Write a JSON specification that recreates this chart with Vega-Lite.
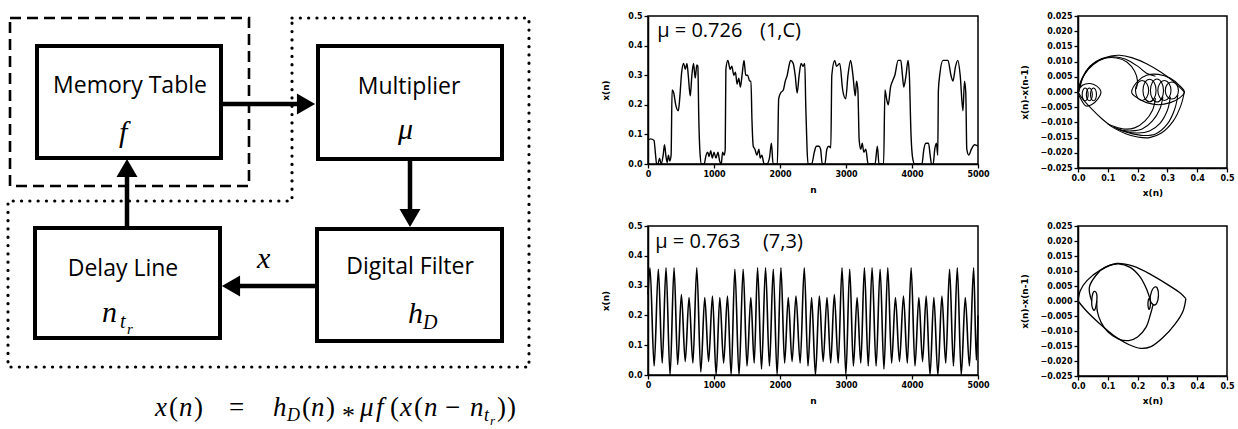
{
  "$schema": "https://vega.github.io/schema/vega-lite/v6.json",
  "background": "white",
  "padding": {"left": 0, "top": 11, "right": 0, "bottom": 0},
  "columns": 3,
  "spacing": {"row": 58, "column": 100},
  "bounds": "flush",
  "align": "each",
  "config": {
    "view": {"stroke": null},
    "axis": {
      "grid": false,
      "labelFont": "DejaVu Sans",
      "labelFontWeight": "bold",
      "labelFontSize": 8,
      "labelColor": "black",
      "labelPadding": 2,
      "labelFlush": false,
      "labelOverlap": false,
      "titleFont": "DejaVu Sans",
      "titleFontWeight": "bold",
      "titleFontSize": 9,
      "titleColor": "black",
      "tickColor": "black",
      "tickSize": 4,
      "tickWidth": 1.3,
      "domainColor": "black",
      "domainWidth": 1.5
    }
  },
  "concat": [
    {
      "width": 548,
      "height": 152,
      "encoding": {
        "x": {"field": "x", "type": "quantitative", "scale": {"domain": [0, 548], "nice": false, "zero": false}, "axis": null},
        "y": {"field": "y", "type": "quantitative", "scale": {"domain": [15, 167], "reverse": true, "nice": false, "zero": false}, "axis": null}
      },
      "layer": [
        {
          "data": {"values": [{"x": 10, "y": 17, "x2": 249, "y2": 185}]},
          "mark": {"type": "rect", "fillOpacity": 0, "stroke": "black", "strokeWidth": 2.6, "strokeDash": [11, 6]},
          "encoding": {"x2": {"field": "x2"}, "y2": {"field": "y2"}}
        },
        {
          "data": {"values": [
            {"i": 0, "x": 292, "y": 17}, {"i": 1, "x": 529, "y": 17}, {"i": 2, "x": 529, "y": 366},
            {"i": 3, "x": 8, "y": 366}, {"i": 4, "x": 8, "y": 200}, {"i": 5, "x": 292, "y": 200}, {"i": 6, "x": 292, "y": 17}
          ]},
          "mark": {"type": "line", "stroke": "black", "strokeWidth": 3.2, "strokeDash": [0.1, 8.2], "strokeCap": "round"},
          "encoding": {"order": {"field": "i", "type": "quantitative"}}
        },
        {
          "data": {"values": [
            {"x": 222, "y": 103, "x2": 304, "y2": 103},
            {"x": 410, "y": 160, "x2": 410, "y2": 215},
            {"x": 317, "y": 285, "x2": 233, "y2": 285},
            {"x": 127, "y": 226, "x2": 127, "y2": 169}
          ]},
          "mark": {"type": "rule", "stroke": "black", "strokeWidth": 4.5},
          "encoding": {"x2": {"field": "x2"}, "y2": {"field": "y2"}}
        },
        {
          "data": {"values": [
            {"x": 306, "y": 103, "dir": "right"},
            {"x": 410, "y": 217, "dir": "down"},
            {"x": 231, "y": 285, "dir": "left"},
            {"x": 127, "y": 167, "dir": "up"}
          ]},
          "mark": {"type": "point", "filled": true, "size": 441, "color": "black", "opacity": 1},
          "encoding": {
            "shape": {"field": "dir", "type": "nominal", "scale": {"domain": ["right", "down", "left", "up"], "range": ["triangle-right", "triangle-down", "triangle-left", "triangle-up"]}, "legend": null}
          }
        },
        {
          "data": {"values": [
            {"x": 37, "y": 45, "x2": 221, "y2": 157},
            {"x": 318, "y": 45, "x2": 502, "y2": 158},
            {"x": 35, "y": 227, "x2": 220, "y2": 337},
            {"x": 317, "y": 228, "x2": 502, "y2": 340}
          ]},
          "mark": {"type": "rect", "fill": "white", "stroke": "black", "strokeWidth": 4},
          "encoding": {"x2": {"field": "x2"}, "y2": {"field": "y2"}}
        },
        {
          "data": {"values": [
            {"x": 130, "y": 92, "t": "Memory Table"},
            {"x": 409, "y": 93, "t": "Multiplier"},
            {"x": 123, "y": 275, "t": "Delay Line"},
            {"x": 410, "y": 273, "t": "Digital Filter"}
          ]},
          "mark": {"type": "text", "font": "Open Sans", "fontSize": 23, "align": "center", "baseline": "alphabetic", "color": "black"},
          "encoding": {"text": {"field": "t"}}
        },
        {
          "data": {"values": [
            {"x": 119, "y": 141, "t": "f"},
            {"x": 398, "y": 138, "t": "μ"},
            {"x": 257, "y": 267, "t": "x"},
            {"x": 102, "y": 321, "t": "n"},
            {"x": 408, "y": 322, "t": "h"}
          ]},
          "mark": {"type": "text", "font": "Liberation Serif", "fontStyle": "italic", "fontSize": 30, "align": "left", "baseline": "alphabetic", "color": "black"},
          "encoding": {"text": {"field": "t"}}
        },
        {
          "data": {"values": [
            {"x": 120, "y": 327, "t": "t"},
            {"x": 423, "y": 328, "t": "D"}
          ]},
          "mark": {"type": "text", "font": "Liberation Serif", "fontStyle": "italic", "fontSize": 20, "align": "left", "baseline": "alphabetic", "color": "black"},
          "encoding": {"text": {"field": "t"}}
        },
        {
          "data": {"values": [
            {"x": 127, "y": 333, "t": "r"}
          ]},
          "mark": {"type": "text", "font": "Liberation Serif", "fontStyle": "italic", "fontSize": 15, "align": "left", "baseline": "alphabetic", "color": "black"},
          "encoding": {"text": {"field": "t"}}
        },
        {
          "data": {"values": [
            {"x": 155, "y": 415, "t": "x"}, {"x": 179, "y": 415, "t": "n"}, {"x": 273, "y": 415, "t": "h"},
            {"x": 311, "y": 415, "t": "n"}, {"x": 360, "y": 415, "t": "μ"}, {"x": 376, "y": 415, "t": "f"},
            {"x": 400, "y": 415, "t": "x"}, {"x": 424, "y": 415, "t": "n"}, {"x": 470, "y": 415, "t": "n"}
          ]},
          "mark": {"type": "text", "font": "Liberation Serif", "fontStyle": "italic", "fontSize": 27, "align": "left", "baseline": "alphabetic", "color": "black"},
          "encoding": {"text": {"field": "t"}}
        },
        {
          "data": {"values": [
            {"x": 169, "y": 415, "t": "("}, {"x": 194, "y": 415, "t": ")"}, {"x": 229, "y": 415, "t": "="},
            {"x": 302, "y": 415, "t": "("}, {"x": 326, "y": 415, "t": ")"},
            {"x": 390, "y": 415, "t": "("}, {"x": 414, "y": 415, "t": "("}, {"x": 445, "y": 415, "t": "−"},
            {"x": 497, "y": 415, "t": ")"}, {"x": 507, "y": 415, "t": ")"}
          ]},
          "mark": {"type": "text", "font": "Liberation Serif", "fontSize": 27, "align": "left", "baseline": "alphabetic", "color": "black"},
          "encoding": {"text": {"field": "t"}}
        },
        {
          "data": {"values": [
            {"x": 342, "y": 423, "t": "*"}
          ]},
          "mark": {"type": "text", "font": "Liberation Serif", "fontSize": 26, "align": "left", "baseline": "alphabetic", "color": "black"},
          "encoding": {"text": {"field": "t"}}
        },
        {
          "data": {"values": [
            {"x": 287, "y": 420, "t": "D"}, {"x": 484, "y": 420, "t": "t"}
          ]},
          "mark": {"type": "text", "font": "Liberation Serif", "fontStyle": "italic", "fontSize": 18, "align": "left", "baseline": "alphabetic", "color": "black"},
          "encoding": {"text": {"field": "t"}}
        },
        {
          "data": {"values": [
            {"x": 490, "y": 424, "t": "r"}
          ]},
          "mark": {"type": "text", "font": "Liberation Serif", "fontStyle": "italic", "fontSize": 13, "align": "left", "baseline": "alphabetic", "color": "black"},
          "encoding": {"text": {"field": "t"}}
        }
      ]
    },
    {
      "width": 330,
      "height": 148,
      "view": {"stroke": "black", "strokeWidth": 1.5},
      "encoding": {
        "x": {"field": "n", "type": "quantitative", "title": "n", "scale": {"domain": [0, 5000], "nice": false, "zero": false}, "axis": {"values": [0, 1000, 2000, 3000, 4000, 5000], "format": "d", "titlePadding": 7}},
        "y": {"field": "v", "type": "quantitative", "title": "x(n)", "scale": {"domain": [0, 0.5], "nice": false, "zero": false}, "axis": {"values": [0, 0.1, 0.2, 0.3, 0.4, 0.5], "format": ".1f", "titlePadding": 17}}
      },
      "layer": [
        {
          "data": {"values": [
            {"n":0,"v":0.08},{"n":40,"v":0.085},{"n":90,"v":0.08},{"n":115,"v":0.03},{"n":130,"v":0.0},{"n":150,"v":0.0},{"n":175,"v":0.02},{"n":200,"v":0.0},{"n":230,"v":0.03},{"n":250,"v":0.065},{"n":270,"v":0.03},{"n":290,"v":0.005},{"n":310,"v":0.03},{"n":330,"v":0.01},{"n":350,"v":0.03},
            {"n":365,"v":0.25},{"n":390,"v":0.24},{"n":420,"v":0.2},{"n":460,"v":0.18},{"n":480,"v":0.22},{"n":510,"v":0.31},{"n":540,"v":0.34},{"n":565,"v":0.32},{"n":590,"v":0.34},{"n":610,"v":0.3},{"n":640,"v":0.23},{"n":665,"v":0.3},{"n":690,"v":0.34},{"n":715,"v":0.29},{"n":740,"v":0.335},{"n":755,"v":0.33},{"n":770,"v":0.15},{"n":790,"v":0.03},
            {"n":810,"v":0.0},{"n":850,"v":0.0},{"n":880,"v":0.03},{"n":905,"v":0.04},{"n":925,"v":0.025},{"n":950,"v":0.045},{"n":975,"v":0.02},{"n":1000,"v":0.04},{"n":1030,"v":0.02},{"n":1060,"v":0.04},{"n":1085,"v":0.01},{"n":1110,"v":0.0},{"n":1130,"v":0.04},{"n":1155,"v":0.03},{"n":1170,"v":0.05},
            {"n":1180,"v":0.32},{"n":1210,"v":0.35},{"n":1245,"v":0.32},{"n":1270,"v":0.33},{"n":1300,"v":0.3},{"n":1325,"v":0.31},{"n":1350,"v":0.27},{"n":1375,"v":0.29},{"n":1400,"v":0.26},{"n":1425,"v":0.3},{"n":1455,"v":0.35},{"n":1480,"v":0.3},{"n":1510,"v":0.3},{"n":1540,"v":0.28},{"n":1560,"v":0.28},{"n":1575,"v":0.15},{"n":1595,"v":0.06},
            {"n":1620,"v":0.05},{"n":1650,"v":0.03},{"n":1680,"v":0.05},{"n":1700,"v":0.02},{"n":1725,"v":0.03},{"n":1760,"v":0.0},{"n":1800,"v":0.0},{"n":1840,"v":0.02},{"n":1870,"v":0.07},{"n":1895,"v":0.0},{"n":1960,"v":0.0},
            {"n":1980,"v":0.22},{"n":2010,"v":0.24},{"n":2050,"v":0.25},{"n":2080,"v":0.28},{"n":2110,"v":0.3},{"n":2135,"v":0.33},{"n":2160,"v":0.35},{"n":2200,"v":0.34},{"n":2230,"v":0.3},{"n":2260,"v":0.24},{"n":2290,"v":0.3},{"n":2320,"v":0.34},{"n":2350,"v":0.33},{"n":2375,"v":0.34},{"n":2390,"v":0.2},{"n":2410,"v":0.05},
            {"n":2425,"v":0.0},{"n":2480,"v":0.0},{"n":2520,"v":0.04},{"n":2550,"v":0.06},{"n":2590,"v":0.06},{"n":2615,"v":0.05},{"n":2640,"v":0.0},{"n":2680,"v":0.0},{"n":2710,"v":0.05},{"n":2740,"v":0.06},{"n":2770,"v":0.055},
            {"n":2785,"v":0.3},{"n":2830,"v":0.35},{"n":2855,"v":0.33},{"n":2905,"v":0.34},{"n":2950,"v":0.25},{"n":2995,"v":0.22},{"n":3030,"v":0.3},{"n":3070,"v":0.35},{"n":3105,"v":0.3},{"n":3140,"v":0.23},{"n":3160,"v":0.28},{"n":3180,"v":0.25},{"n":3200,"v":0.08},
            {"n":3225,"v":0.05},{"n":3245,"v":0.07},{"n":3270,"v":0.04},{"n":3300,"v":0.05},{"n":3335,"v":0.0},{"n":3440,"v":0.0},{"n":3475,"v":0.06},{"n":3500,"v":0.0},{"n":3570,"v":0.0},
            {"n":3590,"v":0.25},{"n":3615,"v":0.22},{"n":3640,"v":0.2},{"n":3675,"v":0.26},{"n":3705,"v":0.28},{"n":3740,"v":0.3},{"n":3790,"v":0.35},{"n":3830,"v":0.35},{"n":3855,"v":0.3},{"n":3875,"v":0.26},{"n":3910,"v":0.3},{"n":3940,"v":0.35},{"n":3960,"v":0.3},{"n":3985,"v":0.1},{"n":4010,"v":0.02},
            {"n":4040,"v":0.0},{"n":4150,"v":0.0},{"n":4180,"v":0.05},{"n":4210,"v":0.07},{"n":4250,"v":0.07},{"n":4275,"v":0.03},{"n":4295,"v":0.0},{"n":4320,"v":0.0},{"n":4345,"v":0.05},{"n":4370,"v":0.07},{"n":4390,"v":0.03},
            {"n":4400,"v":0.25},{"n":4420,"v":0.3},{"n":4470,"v":0.35},{"n":4545,"v":0.35},{"n":4590,"v":0.3},{"n":4620,"v":0.28},{"n":4660,"v":0.33},{"n":4695,"v":0.35},{"n":4730,"v":0.3},{"n":4772,"v":0.18},{"n":4795,"v":0.28},{"n":4815,"v":0.24},{"n":4830,"v":0.05},
            {"n":4860,"v":0.03},{"n":4900,"v":0.05},{"n":4950,"v":0.065},{"n":5000,"v":0.06}
          ]},
          "mark": {"type": "line", "color": "black", "strokeWidth": 1.4, "interpolate": "monotone"}
        },
        {
          "data": {"values": [{"n": 140, "v": 0.43, "t": "μ = 0.726"}, {"n": 1697, "v": 0.43, "t": "(1,C)"}]},
          "mark": {"type": "text", "font": "Open Sans", "fontSize": 20, "align": "left", "baseline": "alphabetic", "color": "black"},
          "encoding": {"text": {"field": "t"}}
        }
      ]
    },
    {
      "width": 149,
      "height": 152,
      "view": {"stroke": "black", "strokeWidth": 1.5},
      "encoding": {
        "x": {"field": "x", "type": "quantitative", "title": "x(n)", "scale": {"domain": [0, 0.5], "nice": false, "zero": false}, "axis": {"values": [0, 0.1, 0.2, 0.3, 0.4, 0.5], "format": ".1f", "titlePadding": 6}},
        "y": {"field": "y", "type": "quantitative", "title": "x(n)-x(n-1)", "scale": {"domain": [-0.025, 0.025], "nice": false, "zero": false}, "axis": {"values": [-0.025, -0.02, -0.015, -0.01, -0.005, 0, 0.005, 0.01, 0.015, 0.02, 0.025], "format": ".3f", "titlePadding": 10}},
        "detail": {"field": "p", "type": "nominal"},
        "order": {"field": "i", "type": "quantitative"}
      },
      "layer": [
        {
          "data": {"values": [
            {"p":"A","i":0,"x":0.0,"y":0.0005},{"p":"A","i":1,"x":0.012,"y":0.004},{"p":"A","i":2,"x":0.035,"y":0.0075},{"p":"A","i":3,"x":0.07,"y":0.0103},{"p":"A","i":4,"x":0.11,"y":0.0118},{"p":"A","i":5,"x":0.14,"y":0.0121},{"p":"A","i":6,"x":0.18,"y":0.0113},{"p":"A","i":7,"x":0.23,"y":0.0093},{"p":"A","i":8,"x":0.28,"y":0.0064},{"p":"A","i":9,"x":0.32,"y":0.0035},{"p":"A","i":10,"x":0.357,"y":0.0},
            {"p":"B","i":0,"x":0.0,"y":0.0},{"p":"B","i":1,"x":0.015,"y":0.0048},{"p":"B","i":2,"x":0.04,"y":0.0085},{"p":"B","i":3,"x":0.08,"y":0.011},{"p":"B","i":4,"x":0.12,"y":0.0116},{"p":"B","i":5,"x":0.16,"y":0.0108},{"p":"B","i":6,"x":0.2,"y":0.0085},{"p":"B","i":7,"x":0.23,"y":0.0062},{"p":"B","i":8,"x":0.26,"y":0.0052},
            {"p":"C","i":0,"x":0.003,"y":0.0},{"p":"C","i":1,"x":0.02,"y":0.0055},{"p":"C","i":2,"x":0.05,"y":0.0092},{"p":"C","i":3,"x":0.09,"y":0.0111},{"p":"C","i":4,"x":0.13,"y":0.0112},{"p":"C","i":5,"x":0.165,"y":0.0098},{"p":"C","i":6,"x":0.19,"y":0.0068},{"p":"C","i":7,"x":0.2,"y":0.0035},{"p":"C","i":8,"x":0.195,"y":0.001},
            {"p":"D","i":0,"x":0.357,"y":0.0},{"p":"D","i":1,"x":0.345,"y":-0.0045},{"p":"D","i":2,"x":0.32,"y":-0.0095},{"p":"D","i":3,"x":0.28,"y":-0.0135},{"p":"D","i":4,"x":0.24,"y":-0.015},{"p":"D","i":5,"x":0.2,"y":-0.0148},{"p":"D","i":6,"x":0.16,"y":-0.0137},{"p":"D","i":7,"x":0.12,"y":-0.0118},{"p":"D","i":8,"x":0.08,"y":-0.0088},{"p":"D","i":9,"x":0.045,"y":-0.0055},{"p":"D","i":10,"x":0.015,"y":-0.0022},{"p":"D","i":11,"x":0.0,"y":0.0},
            {"p":"E","i":0,"x":0.335,"y":-0.001},{"p":"E","i":1,"x":0.325,"y":-0.0055},{"p":"E","i":2,"x":0.3,"y":-0.0105},{"p":"E","i":3,"x":0.26,"y":-0.0138},{"p":"E","i":4,"x":0.22,"y":-0.0143},{"p":"E","i":5,"x":0.18,"y":-0.0137},{"p":"E","i":6,"x":0.14,"y":-0.0125},
            {"p":"F","i":0,"x":0.31,"y":-0.0015},{"p":"F","i":1,"x":0.3,"y":-0.006},{"p":"F","i":2,"x":0.275,"y":-0.0103},{"p":"F","i":3,"x":0.24,"y":-0.0128},{"p":"F","i":4,"x":0.2,"y":-0.0135},{"p":"F","i":5,"x":0.16,"y":-0.013},{"p":"F","i":6,"x":0.13,"y":-0.012},
            {"p":"G","i":0,"x":0.285,"y":-0.0015},{"p":"G","i":1,"x":0.275,"y":-0.0055},{"p":"G","i":2,"x":0.25,"y":-0.0095},{"p":"G","i":3,"x":0.215,"y":-0.0122},{"p":"G","i":4,"x":0.18,"y":-0.0128},{"p":"G","i":5,"x":0.145,"y":-0.0125},{"p":"G","i":6,"x":0.12,"y":-0.0115},
            {"p":"H","i":0,"x":0.26,"y":-0.002},{"p":"H","i":1,"x":0.25,"y":-0.006},{"p":"H","i":2,"x":0.225,"y":-0.0095},{"p":"H","i":3,"x":0.19,"y":-0.0118},{"p":"H","i":4,"x":0.155,"y":-0.0122},{"p":"H","i":5,"x":0.12,"y":-0.0113},{"p":"H","i":6,"x":0.1,"y":-0.0105}
          ]},
          "mark": {"type": "line", "color": "black", "strokeWidth": 1.1, "interpolate": "catmull-rom"}
        },
        {
          "data": {"values": [
            {"p":"LL","i":0,"x":0.0,"y":0.0},{"p":"LL","i":1,"x":0.015,"y":0.0022},{"p":"LL","i":2,"x":0.04,"y":0.0028},{"p":"LL","i":3,"x":0.062,"y":0.002},{"p":"LL","i":4,"x":0.077,"y":0.0},{"p":"LL","i":5,"x":0.065,"y":-0.0025},{"p":"LL","i":6,"x":0.045,"y":-0.0042},{"p":"LL","i":7,"x":0.025,"y":-0.0045},{"p":"LL","i":8,"x":0.008,"y":-0.002},
            {"p":"L1","i":0,"x":0.034,"y":-0.0008},{"p":"L1","i":1,"x":0.031,"y":0.0007},{"p":"L1","i":2,"x":0.024,"y":0.0013},{"p":"L1","i":3,"x":0.017,"y":0.0007},{"p":"L1","i":4,"x":0.014,"y":-0.0008},{"p":"L1","i":5,"x":0.017,"y":-0.0023},{"p":"L1","i":6,"x":0.024,"y":-0.0029},{"p":"L1","i":7,"x":0.031,"y":-0.0023},
            {"p":"L2","i":0,"x":0.048,"y":-0.0008},{"p":"L2","i":1,"x":0.045,"y":0.0007},{"p":"L2","i":2,"x":0.038,"y":0.0013},{"p":"L2","i":3,"x":0.031,"y":0.0007},{"p":"L2","i":4,"x":0.028,"y":-0.0008},{"p":"L2","i":5,"x":0.031,"y":-0.0023},{"p":"L2","i":6,"x":0.038,"y":-0.0029},{"p":"L2","i":7,"x":0.045,"y":-0.0023},
            {"p":"L3","i":0,"x":0.062,"y":-0.0008},{"p":"L3","i":1,"x":0.059,"y":0.0007},{"p":"L3","i":2,"x":0.052,"y":0.0013},{"p":"L3","i":3,"x":0.045,"y":0.0007},{"p":"L3","i":4,"x":0.042,"y":-0.0008},{"p":"L3","i":5,"x":0.045,"y":-0.0023},{"p":"L3","i":6,"x":0.052,"y":-0.0029},{"p":"L3","i":7,"x":0.059,"y":-0.0023},
            {"p":"RL","i":0,"x":0.18,"y":0.0},{"p":"RL","i":1,"x":0.2,"y":0.0035},{"p":"RL","i":2,"x":0.23,"y":0.0055},{"p":"RL","i":3,"x":0.27,"y":0.0058},{"p":"RL","i":4,"x":0.31,"y":0.0045},{"p":"RL","i":5,"x":0.34,"y":0.0022},{"p":"RL","i":6,"x":0.357,"y":0.0},{"p":"RL","i":7,"x":0.34,"y":-0.002},{"p":"RL","i":8,"x":0.31,"y":-0.0035},{"p":"RL","i":9,"x":0.27,"y":-0.0042},{"p":"RL","i":10,"x":0.23,"y":-0.0035},{"p":"RL","i":11,"x":0.2,"y":-0.002},
            {"p":"R1","i":0,"x":0.237,"y":0.0005},{"p":"R1","i":1,"x":0.2306,"y":0.0028},{"p":"R1","i":2,"x":0.215,"y":0.0038},{"p":"R1","i":3,"x":0.1994,"y":0.0028},{"p":"R1","i":4,"x":0.193,"y":0.0005},{"p":"R1","i":5,"x":0.1994,"y":-0.0018},{"p":"R1","i":6,"x":0.215,"y":-0.0028},{"p":"R1","i":7,"x":0.2306,"y":-0.0018},
            {"p":"R2","i":0,"x":0.262,"y":0.0005},{"p":"R2","i":1,"x":0.2556,"y":0.0031},{"p":"R2","i":2,"x":0.24,"y":0.0042},{"p":"R2","i":3,"x":0.2244,"y":0.0031},{"p":"R2","i":4,"x":0.218,"y":0.0005},{"p":"R2","i":5,"x":0.2244,"y":-0.0021},{"p":"R2","i":6,"x":0.24,"y":-0.0032},{"p":"R2","i":7,"x":0.2556,"y":-0.0021},
            {"p":"R3","i":0,"x":0.287,"y":0.0005},{"p":"R3","i":1,"x":0.2806,"y":0.0031},{"p":"R3","i":2,"x":0.265,"y":0.0043},{"p":"R3","i":3,"x":0.2494,"y":0.0031},{"p":"R3","i":4,"x":0.243,"y":0.0005},{"p":"R3","i":5,"x":0.2494,"y":-0.0021},{"p":"R3","i":6,"x":0.265,"y":-0.0033},{"p":"R3","i":7,"x":0.2806,"y":-0.0021},
            {"p":"R4","i":0,"x":0.312,"y":0.0005},{"p":"R4","i":1,"x":0.3056,"y":0.0028},{"p":"R4","i":2,"x":0.29,"y":0.0038},{"p":"R4","i":3,"x":0.2744,"y":0.0028},{"p":"R4","i":4,"x":0.268,"y":0.0005},{"p":"R4","i":5,"x":0.2744,"y":-0.0018},{"p":"R4","i":6,"x":0.29,"y":-0.0028},{"p":"R4","i":7,"x":0.3056,"y":-0.0018},
            {"p":"R5","i":0,"x":0.337,"y":0.0005},{"p":"R5","i":1,"x":0.3306,"y":0.0025},{"p":"R5","i":2,"x":0.315,"y":0.0033},{"p":"R5","i":3,"x":0.2994,"y":0.0025},{"p":"R5","i":4,"x":0.293,"y":0.0005},{"p":"R5","i":5,"x":0.2994,"y":-0.0015},{"p":"R5","i":6,"x":0.315,"y":-0.0023},{"p":"R5","i":7,"x":0.3306,"y":-0.0015}
          ]},
          "mark": {"type": "line", "color": "black", "strokeWidth": 1.1, "interpolate": "cardinal-closed"}
        }
      ]
    },
    {
      "width": 548,
      "height": 149,
      "data": {"values": []},
      "mark": {"type": "point", "opacity": 0}
    },
    {
      "width": 330,
      "height": 149,
      "view": {"stroke": "black", "strokeWidth": 1.5},
      "encoding": {
        "x": {"field": "n", "type": "quantitative", "title": "n", "scale": {"domain": [0, 5000], "nice": false, "zero": false}, "axis": {"values": [0, 1000, 2000, 3000, 4000, 5000], "format": "d", "titlePadding": 7}},
        "y": {"field": "v", "type": "quantitative", "title": "x(n)", "scale": {"domain": [0, 0.5], "nice": false, "zero": false}, "axis": {"values": [0, 0.1, 0.2, 0.3, 0.4, 0.5], "format": ".1f", "titlePadding": 17}}
      },
      "layer": [
        {
          "data": {"values": [
            {"n":0,"v":0.27},{"n":30,"v":0.36},{"n":93,"v":0.03},{"n":157,"v":0.355},{"n":215,"v":0.04},{"n":273,"v":0.36},{"n":334,"v":0.0},{"n":395,"v":0.36},{"n":450,"v":0.035},{"n":506,"v":0.27},{"n":564,"v":0.045},{"n":622,"v":0.26},{"n":680,"v":0.04},{"n":739,"v":0.36},{"n":800,"v":0.01},{"n":860,"v":0.26},{"n":918,"v":0.045},{"n":977,"v":0.265},{"n":1032,"v":0.0},{"n":1088,"v":0.26},{"n":1146,"v":0.04},{"n":1204,"v":0.265},{"n":1260,"v":0.0},{"n":1316,"v":0.355},{"n":1379,"v":0.0},{"n":1442,"v":0.355},{"n":1500,"v":0.03},{"n":1558,"v":0.26},{"n":1609,"v":0.04},{"n":1660,"v":0.36},{"n":1720,"v":0.02},{"n":1781,"v":0.36},{"n":1840,"v":0.03},{"n":1898,"v":0.355},{"n":1956,"v":0.0},{"n":2014,"v":0.36},{"n":2070,"v":0.04},{"n":2125,"v":0.26},{"n":2183,"v":0.045},{"n":2242,"v":0.265},{"n":2305,"v":0.04},{"n":2368,"v":0.36},{"n":2424,"v":0.03},{"n":2479,"v":0.26},{"n":2537,"v":0.0},{"n":2596,"v":0.265},{"n":2654,"v":0.045},{"n":2712,"v":0.26},{"n":2768,"v":0.04},{"n":2823,"v":0.27},{"n":2882,"v":0.04},{"n":2940,"v":0.36},{"n":2998,"v":0.0},{"n":3056,"v":0.355},{"n":3112,"v":0.03},{"n":3168,"v":0.26},{"n":3224,"v":0.04},{"n":3279,"v":0.36},{"n":3337,"v":0.03},{"n":3395,"v":0.36},{"n":3456,"v":0.03},{"n":3517,"v":0.355},{"n":3575,"v":0.02},{"n":3633,"v":0.36},{"n":3691,"v":0.04},{"n":3749,"v":0.26},{"n":3810,"v":0.045},{"n":3871,"v":0.265},{"n":3929,"v":0.04},{"n":3987,"v":0.36},{"n":4045,"v":0.03},{"n":4104,"v":0.26},{"n":4160,"v":0.045},{"n":4215,"v":0.265},{"n":4273,"v":0.0},{"n":4331,"v":0.26},{"n":4392,"v":0.0},{"n":4453,"v":0.265},{"n":4511,"v":0.04},{"n":4569,"v":0.355},{"n":4628,"v":0.03},{"n":4686,"v":0.36},{"n":4746,"v":0.0},{"n":4807,"v":0.26},{"n":4870,"v":0.03},{"n":4934,"v":0.36},{"n":4975,"v":0.05},{"n":5000,"v":0.2}
          ]},
          "mark": {"type": "line", "color": "black", "strokeWidth": 1.6, "interpolate": "monotone"}
        },
        {
          "data": {"values": [{"n": 110, "v": 0.426, "t": "μ = 0.763"}, {"n": 1742, "v": 0.426, "t": "(7,3)"}]},
          "mark": {"type": "text", "font": "Open Sans", "fontSize": 20, "align": "left", "baseline": "alphabetic", "color": "black"},
          "encoding": {"text": {"field": "t"}}
        }
      ]
    },
    {
      "width": 149,
      "height": 150,
      "view": {"stroke": "black", "strokeWidth": 1.5},
      "encoding": {
        "x": {"field": "x", "type": "quantitative", "title": "x(n)", "scale": {"domain": [0, 0.5], "nice": false, "zero": false}, "axis": {"values": [0, 0.1, 0.2, 0.3, 0.4, 0.5], "format": ".1f", "titlePadding": 6}},
        "y": {"field": "y", "type": "quantitative", "title": "x(n)-x(n-1)", "scale": {"domain": [-0.025, 0.025], "nice": false, "zero": false}, "axis": {"values": [-0.025, -0.02, -0.015, -0.01, -0.005, 0, 0.005, 0.01, 0.015, 0.02, 0.025], "format": ".3f", "titlePadding": 10}},
        "detail": {"field": "p", "type": "nominal"},
        "order": {"field": "i", "type": "quantitative"}
      },
      "layer": [
        {
          "data": {"values": [
            {"p":"O1","i":0,"x":0.0,"y":0.0},{"p":"O1","i":1,"x":0.008,"y":0.0035},{"p":"O1","i":2,"x":0.03,"y":0.0068},{"p":"O1","i":3,"x":0.075,"y":0.0103},{"p":"O1","i":4,"x":0.13,"y":0.0125},{"p":"O1","i":5,"x":0.185,"y":0.0116},{"p":"O1","i":6,"x":0.245,"y":0.0088},{"p":"O1","i":7,"x":0.305,"y":0.0052},{"p":"O1","i":8,"x":0.345,"y":0.0025},{"p":"O1","i":9,"x":0.362,"y":0.0008},
            {"p":"O2","i":0,"x":0.362,"y":0.0008},{"p":"O2","i":1,"x":0.352,"y":-0.0035},{"p":"O2","i":2,"x":0.325,"y":-0.0078},{"p":"O2","i":3,"x":0.285,"y":-0.0122},{"p":"O2","i":4,"x":0.245,"y":-0.0152},{"p":"O2","i":5,"x":0.21,"y":-0.0158},{"p":"O2","i":6,"x":0.17,"y":-0.0145},{"p":"O2","i":7,"x":0.12,"y":-0.0115},{"p":"O2","i":8,"x":0.07,"y":-0.0073},{"p":"O2","i":9,"x":0.03,"y":-0.0035},{"p":"O2","i":10,"x":0.0,"y":0.0},
            {"p":"I1","i":0,"x":0.046,"y":0.0},{"p":"I1","i":1,"x":0.038,"y":0.0045},{"p":"I1","i":2,"x":0.06,"y":0.0085},{"p":"I1","i":3,"x":0.095,"y":0.0115},{"p":"I1","i":4,"x":0.135,"y":0.0124},{"p":"I1","i":5,"x":0.175,"y":0.0112},{"p":"I1","i":6,"x":0.21,"y":0.0078},{"p":"I1","i":7,"x":0.232,"y":0.0035},{"p":"I1","i":8,"x":0.242,"y":0.0005},
            {"p":"I2","i":0,"x":0.252,"y":-0.0012},{"p":"I2","i":1,"x":0.243,"y":-0.0045},{"p":"I2","i":2,"x":0.228,"y":-0.0088},{"p":"I2","i":3,"x":0.2,"y":-0.012},{"p":"I2","i":4,"x":0.17,"y":-0.0132},{"p":"I2","i":5,"x":0.135,"y":-0.0126},{"p":"I2","i":6,"x":0.1,"y":-0.0103},{"p":"I2","i":7,"x":0.077,"y":-0.007},{"p":"I2","i":8,"x":0.065,"y":-0.0035},{"p":"I2","i":9,"x":0.063,"y":0.0}
          ]},
          "mark": {"type": "line", "color": "black", "strokeWidth": 1.3, "interpolate": "catmull-rom"}
        },
        {
          "data": {"values": [
            {"p":"R","i":0,"x":0.242,"y":0.0005},{"p":"R","i":1,"x":0.247,"y":0.0032},{"p":"R","i":2,"x":0.256,"y":0.0046},{"p":"R","i":3,"x":0.266,"y":0.0043},{"p":"R","i":4,"x":0.27,"y":0.0018},{"p":"R","i":5,"x":0.264,"y":-0.0008},{"p":"R","i":6,"x":0.252,"y":-0.0012},
            {"p":"S","i":0,"x":0.243,"y":-0.0005},{"p":"S","i":1,"x":0.24,"y":0.0008},{"p":"S","i":2,"x":0.236,"y":0.0003},{"p":"S","i":3,"x":0.235,"y":-0.0015},{"p":"S","i":4,"x":0.238,"y":-0.0028},{"p":"S","i":5,"x":0.242,"y":-0.002},
            {"p":"L","i":0,"x":0.063,"y":0.0},{"p":"L","i":1,"x":0.063,"y":0.0022},{"p":"L","i":2,"x":0.057,"y":0.0032},{"p":"L","i":3,"x":0.05,"y":0.0026},{"p":"L","i":4,"x":0.046,"y":0.0},{"p":"L","i":5,"x":0.048,"y":-0.0022},{"p":"L","i":6,"x":0.056,"y":-0.003}
          ]},
          "mark": {"type": "line", "color": "black", "strokeWidth": 1.3, "interpolate": "cardinal-closed"}
        }
      ]
    }
  ]
}
